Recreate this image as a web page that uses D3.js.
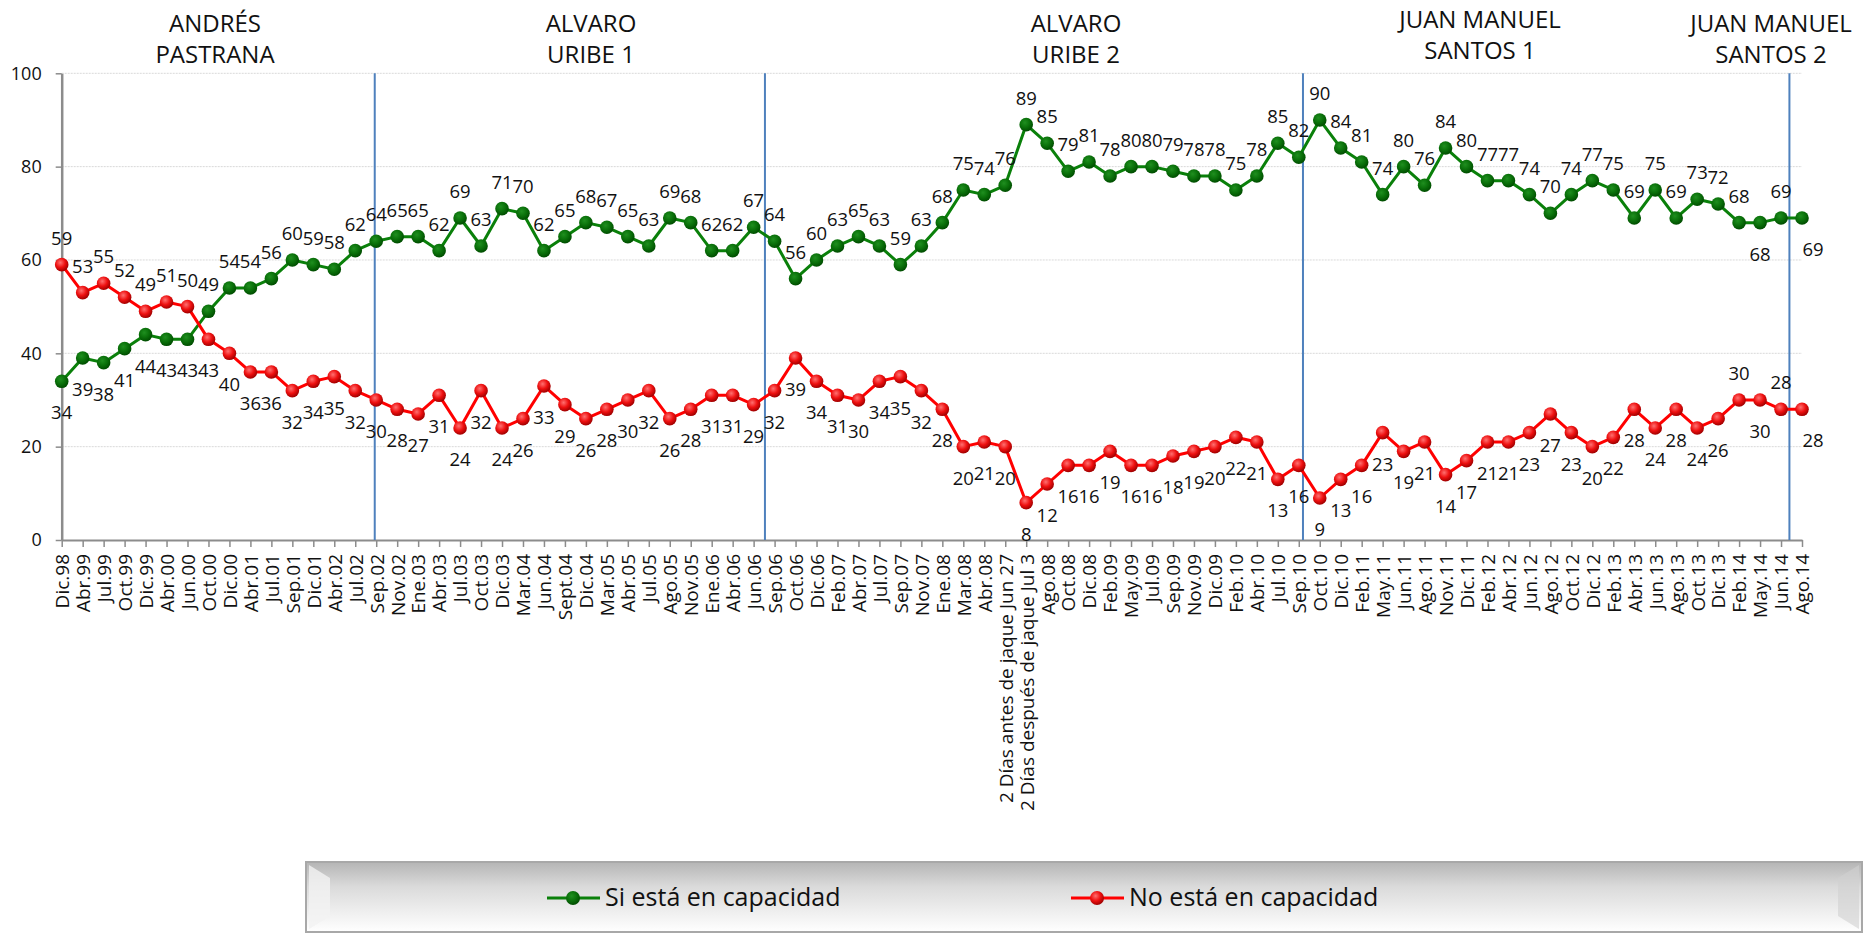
<!DOCTYPE html>
<html>
<head>
<meta charset="utf-8">
<script src="https://cdn.jsdelivr.net/npm/d3@7"></script>
<style>
  html, body { margin: 0; padding: 0; background: #fff; }
  #canvas { width: 1866px; height: 933px; }
  text { font-family: "Open Sans", "Noto Sans", sans-serif; fill: #111; }
</style>
</head>
<body>
<div id="canvas"></div>
<script>
const months = ["Dic.98","Abr.99","Jul.99","Oct.99","Dic.99","Abr.00","Jun.00","Oct.00","Dic.00","Abr.01",
  "Jul.01","Sep.01","Dic.01","Abr.02","Jul.02","Sep.02","Nov.02","Ene.03","Abr.03","Jul.03",
  "Oct.03","Dic.03","Mar.04","Jun.04","Sept.04","Dic.04","Mar.05","Abr.05","Jul.05","Ago.05",
  "Nov.05","Ene.06","Abr.06","Jun.06","Sep.06","Oct.06","Dic.06","Feb.07","Abr.07","Jul.07",
  "Sep.07","Nov.07","Ene.08","Mar.08","Abr.08","2 Días antes de jaque Jun 27","2 Días después de jaque Jul 3","Ago.08","Oct.08","Dic.08",
  "Feb.09","May.09","Jul.09","Sep.09","Nov.09","Dic.09","Feb.10","Abr.10","Jul.10","Sep.10",
  "Oct.10","Dic.10","Feb.11","May.11","Jun.11","Ago.11","Nov.11","Dic.11","Feb.12","Abr.12",
  "Jun.12","Ago.12","Oct.12","Dic.12","Feb.13","Abr.13","Jun.13","Ago.13","Oct.13","Dic.13",
  "Feb.14","May.14","Jun.14","Ago.14"];

const siCapacidad = [34,39,38,41,44,43,43,49,54,54,
  56,60,59,58,62,64,65,65,62,69,
  63,71,70,62,65,68,67,65,63,69,
  68,62,62,67,64,56,60,63,65,63,
  59,63,68,75,74,76,89,85,79,81,
  78,80,80,79,78,78,75,78,85,82,
  90,84,81,74,80,76,84,80,77,77,
  74,70,74,77,75,69,75,69,73,72,
  68,68,69,69];

const noCapacidad = [59,53,55,52,49,51,50,43,40,36,
  36,32,34,35,32,30,28,27,31,24,
  32,24,26,33,29,26,28,30,32,26,
  28,31,31,29,32,39,34,31,30,34,
  35,32,28,20,21,20,8,12,16,16,
  19,16,16,18,19,20,22,21,13,16,
  9,13,16,23,19,21,14,17,21,21,
  23,27,23,20,22,28,24,28,24,26,
  30,30,28,28];

const presidents = [["ANDRÉS","PASTRANA"],["ALVARO","URIBE 1"],["ALVARO","URIBE 2"],
  ["JUAN MANUEL","SANTOS 1"],["JUAN MANUEL","SANTOS 2"]];
// where each new term starts, in category units
const termBreaks = [14.93, 33.54, 59.2, 82.4];
const yTicks = [0,20,40,60,80,100];

const seriesNames = ["Si está en capacidad","No está en capacidad"];

const w = 1866, h = 933;
const plotLeft = 61.7, plotRight = 1802, plotTop = 73.3, plotBottom = 540;

let svg = d3.select("#canvas")
  .append("svg")
    .attr("width", w)
    .attr("height", h)
    .attr("viewBox", [0, 0, w, h]);

let x = d3.scaleLinear().domain([0, months.length - 1]).range([plotLeft, plotRight]);
let y = d3.scaleLinear().domain([0, 100]).range([plotBottom, plotTop]);

let defs = svg.append("defs");
function ball(id, light, mid, dark) {
  let g = defs.append("radialGradient").attr("id", id)
    .attr("cx", "40%").attr("cy", "35%").attr("r", "65%");
  g.append("stop").attr("offset", "0%").attr("stop-color", light);
  g.append("stop").attr("offset", "55%").attr("stop-color", mid);
  g.append("stop").attr("offset", "100%").attr("stop-color", dark);
}
ball("ballGreen", "#1f8f1f", "#0a700a", "#004d00");
ball("ballRed", "#ff7070", "#ee1010", "#a00000");

let lg = defs.append("linearGradient").attr("id", "legendFill")
  .attr("x1", 0).attr("y1", 0).attr("x2", 0).attr("y2", 1);
lg.append("stop").attr("offset", "0%").attr("stop-color", "#b5b5b5");
lg.append("stop").attr("offset", "35%").attr("stop-color", "#dadada");
lg.append("stop").attr("offset", "100%").attr("stop-color", "#ffffff");

// grid
svg.append("g")
  .selectAll("line")
  .data(yTicks.filter(d => d > 0))
  .enter().append("line")
    .attr("x1", plotLeft).attr("x2", plotRight)
    .attr("y1", d => y(d)).attr("y2", d => y(d))
    .attr("stroke", "#d9d9d9")
    .attr("stroke-dasharray", "2,1");

// axes
let xAxis = d3.axisBottom(x)
  .tickValues(d3.range(months.length))
  .tickFormat(i => months[i])
  .tickSize(7)
  .tickSizeOuter(0);
let gX = svg.append("g")
  .attr("transform", "translate(0," + plotBottom + ")")
  .call(xAxis);
gX.select(".domain").attr("stroke", "#8c8c8c").attr("stroke-width", 2);
gX.selectAll(".tick line").attr("stroke", "#8c8c8c").attr("stroke-width", 1.5);
gX.selectAll(".tick text")
  .attr("transform", "rotate(-90)")
  .attr("text-anchor", "end")
  .attr("x", -14)
  .attr("y", 0)
  .attr("dy", "0.36em")
  .style("font-size", "19px")
  .style("font-family", "'Open Sans', sans-serif")
  .attr("fill", "#111");

let yAxis = d3.axisLeft(y)
  .tickValues(yTicks)
  .tickSize(6)
  .tickPadding(14)
  .tickSizeOuter(0);
let gY = svg.append("g")
  .attr("transform", "translate(" + plotLeft + ",0)")
  .call(yAxis);
gY.select(".domain").attr("stroke", "#8c8c8c").attr("stroke-width", 2.5);
gY.selectAll(".tick line").attr("stroke", "#8c8c8c").attr("stroke-width", 1.5);
gY.selectAll(".tick text")
  .style("font-size", "18px")
  .style("font-family", "'Open Sans', sans-serif")
  .attr("fill", "#111");

// term separators
svg.append("g")
  .selectAll("line")
  .data(termBreaks)
  .enter().append("line")
    .attr("x1", d => x(d)).attr("x2", d => x(d))
    .attr("y1", plotTop).attr("y2", plotBottom)
    .attr("stroke", "#4f81bd")
    .attr("stroke-width", 2);

// president titles
const titleX = [215, 591, 1076, 1480, 1771];
const titleShift = [0, 0, 0, -4, 0];
let titles = svg.append("g");
presidents.forEach((p, k) => {
  p.forEach((txt, j) => {
    titles.append("text")
      .attr("x", titleX[k])
      .attr("y", 31.7 + j * 31.6 + titleShift[k])
      .attr("text-anchor", "middle")
      .style("font-size", "24px")
      .text(txt);
  });
});

// series
let line = d3.line()
  .x((d, i) => x(i))
  .y(d => y(d));

function drawSeries(values, other, color, fill, flips) {
  let g = svg.append("g");
  g.append("path")
    .datum(values)
    .attr("d", line)
    .attr("fill", "none")
    .attr("stroke", color)
    .attr("stroke-width", 3)
    .attr("stroke-linejoin", "round");
  g.selectAll("circle")
      .data(values)
    .enter().append("circle")
      .attr("cx", (d, i) => x(i))
      .attr("cy", d => y(d))
      .attr("r", 6.8)
      .attr("fill", fill);
  g.selectAll("text")
      .data(values)
    .enter().append("text")
      .attr("x", (d, i) => x(i) + (i == months.length - 1 ? 11 : 0))
      .attr("y", (d, i) => {
        let above = d >= other[i];
        if (flips.includes(i)) above = !above;
        return above ? y(d) - 20 : y(d) + 38;
      })
      .attr("text-anchor", "middle")
      .style("font-size", "18.5px")
      .text(d => d);
}
drawSeries(siCapacidad, noCapacidad, "#0a800a", "url(#ballGreen)", [81, 83]);
drawSeries(noCapacidad, siCapacidad, "#ff0000", "url(#ballRed)", [80, 82]);

// legend
let leg = svg.append("g");
leg.append("rect")
  .attr("x", 306).attr("y", 862).attr("width", 1556).attr("height", 70)
  .attr("fill", "url(#legendFill)")
  .attr("stroke", "#a8a8a8").attr("stroke-width", 2);
leg.append("path")
  .attr("d", "M309,865 L330,878 L330,916 L309,929 Z")
  .attr("fill", "#f2f2f2").attr("opacity", 0.8);
leg.append("path")
  .attr("d", "M1859,865 L1838,878 L1838,916 L1859,929 Z")
  .attr("fill", "#d0d0d0").attr("opacity", 0.6);

const legendX = [547, 1071];
const legendColors = [["#0a800a", "url(#ballGreen)"], ["#ff0000", "url(#ballRed)"]];
seriesNames.forEach((name, k) => {
  let lx = legendX[k];
  leg.append("line")
    .attr("x1", lx).attr("x2", lx + 53)
    .attr("y1", 898).attr("y2", 898)
    .attr("stroke", legendColors[k][0]).attr("stroke-width", 3);
  leg.append("circle")
    .attr("cx", lx + 26).attr("cy", 898).attr("r", 7)
    .attr("fill", legendColors[k][1]);
  leg.append("text")
    .attr("x", lx + 58).attr("y", 906)
    .style("font-size", "25px")
    .text(name);
});
</script>
</body>
</html>
